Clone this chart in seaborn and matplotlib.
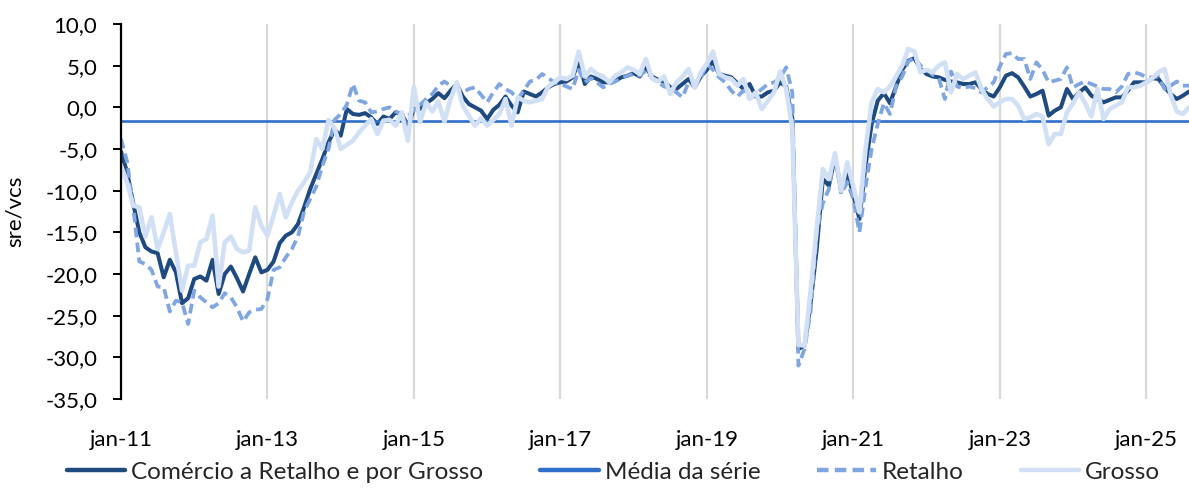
import numpy as np
import pandas as pd
import matplotlib
matplotlib.use("Agg")
import matplotlib.pyplot as plt
import seaborn as sns
from matplotlib.ticker import FuncFormatter

# ---- data (monthly, jan-2011 .. aug-2025) ----
comercio = [
    -5.3, -7.8, -11.5, -15.0, -16.8, -17.3, -17.5, -20.4, -18.3, -19.8, -23.5, -22.9,
    -20.6, -20.3, -20.8, -18.3, -22.4, -20.0, -19.1, -20.5, -22.1, -20.0, -18.0, -19.8,
    -19.5, -18.5, -16.3, -15.4, -15.0, -14.0, -12.0, -9.8, -8.0, -6.2, -4.2, -2.7,
    -3.4, -0.2, -0.8, -0.9, -0.7, -1.2, -2.0, -1.1, -1.4, -0.6, -0.8, -2.2,
    -0.2, -0.2, 0.5, 1.0, 1.7, 1.1, 2.0, 2.8, 1.3, 0.4, 0.0, -0.4,
    -1.4, -0.3, 0.3, 1.3, 0.2, -0.6, 1.9, 1.6, 1.3, 1.8, 2.4, 2.8,
    3.0, 3.1, 3.6, 5.5, 2.8, 3.7, 3.4, 3.0, 3.0, 3.2, 3.6, 3.8,
    4.1, 3.7, 4.8, 3.7, 3.3, 3.1, 2.4, 2.2, 2.8, 3.4, 2.4, 3.7,
    4.5, 5.5, 4.0, 3.8, 3.6, 2.9, 2.2, 2.8, 1.3, 1.3, 1.8, 2.0,
    3.0, 2.5, -1.4, -29.0, -28.6, -23.5, -17.0, -8.6, -9.4, -5.9, -10.0, -7.8,
    -10.5, -13.4, -7.0, -2.0, 0.8, 1.7, 0.5, 2.5, 4.5, 5.6, 5.9, 4.6,
    4.0, 3.7, 3.6, 3.3, 3.1, 3.0, 2.8, 2.8, 3.0, 2.2, 1.6, 1.3,
    2.4, 3.8, 4.1, 3.6, 2.5, 1.3, 1.6, 2.0, -1.0, -0.4, 0.0, 2.2,
    1.0, 1.8, 2.4, 1.4, 1.0, 0.6, 0.9, 1.2, 1.2, 2.0, 3.0, 3.0,
    3.0, 3.5, 3.4, 2.4, 1.6, 1.0, 1.4, 1.9,
]
retalho = [
    -3.8, -6.5, -12.0, -18.5, -18.8, -19.5, -21.5, -21.6, -24.5, -23.2, -23.4, -26.0,
    -22.0, -22.8, -23.4, -24.0, -23.5, -22.3, -22.8, -24.0, -25.7, -24.6, -24.3, -24.2,
    -23.0, -19.5, -19.2, -18.0, -17.0, -15.5, -12.5, -11.0, -9.5, -7.0, -5.0, -1.5,
    -0.8, 0.3, 2.8, 0.8, 0.6, -0.6, -0.5, -0.2, 0.0, -0.5, -0.8, -1.1,
    -0.3, 0.3, 1.0, 1.6, 2.6, 3.1, 2.6, 2.5, 1.8, 2.2, 2.4, 1.5,
    0.6, 1.8, 2.8, 2.2, 1.8, 1.0, 2.0, 3.1, 3.3, 4.0, 3.5, 3.0,
    2.8, 2.5, 2.2, 4.5, 3.0, 3.5, 3.0, 2.4, 2.8, 3.1, 3.5, 3.8,
    4.0, 3.8, 4.4, 3.5, 3.0, 2.5, 2.3, 1.8, 1.2, 3.0, 2.6, 3.5,
    5.2, 4.5, 3.6, 3.0, 2.0, 1.3, 2.0, 1.0, 1.6, 2.2, 2.8, 3.0,
    3.5, 4.8, 1.8, -31.0, -29.0, -24.5, -15.0, -11.5, -9.8, -5.5, -10.4, -9.0,
    -11.0, -15.0, -9.5, -5.0, -2.0, 0.5, -0.8, 2.5, 3.7, 5.5, 6.0, 5.0,
    4.6, 3.9, 3.5, 1.0, 4.3, 2.5, 2.3, 2.5, 2.3, 1.8, 2.4, 3.0,
    4.9, 6.4, 6.5, 5.8, 5.8, 3.4, 5.4, 4.5, 3.0, 3.2, 3.4, 4.8,
    2.4, 2.8, 3.1, 2.8, 2.5, 2.2, 2.2, 1.8, 2.5, 4.0, 4.2, 4.0,
    3.6, 3.6, 3.7, 2.2, 2.6, 3.1, 2.6, 2.6,
]
grosso = [
    -7.0, -9.0, -11.8, -12.0, -15.5, -13.2, -17.0, -15.0, -12.8, -17.4, -22.0, -19.0,
    -19.0, -16.2, -15.8, -13.0, -21.5, -16.2, -15.5, -17.0, -17.4, -17.2, -12.0, -14.2,
    -15.4, -13.0, -10.4, -13.2, -11.4, -10.0, -9.0, -7.8, -3.8, -5.0, -1.5, -2.5,
    -5.0, -4.5, -4.0, -3.0, -2.2, -1.4, -3.2, -1.6, -1.5, -2.2, -0.6, -4.0,
    2.5, -1.8, 0.6, -0.5, 0.7, -1.7, 1.0, 3.0, 0.2, -1.0, -2.2, -1.3,
    -2.2, -1.5, -0.8, 1.0, -2.2, 1.2, 0.8, 0.6, 0.8, 1.0, 2.5, 3.0,
    3.6, 3.4, 3.8, 6.7, 3.7, 4.6, 4.0, 3.7, 3.0, 3.8, 4.2, 4.8,
    4.5, 4.0, 5.8, 3.5, 3.1, 3.7, 1.6, 3.0, 3.7, 4.6, 2.4, 4.2,
    5.2, 6.7, 4.0, 3.6, 3.4, 2.6, 3.4, 1.0, 1.8, -0.2, 0.8, 1.8,
    4.3, 2.2, -2.6, -28.5, -28.6, -22.0, -14.5, -7.4, -8.6, -5.5, -10.0, -6.6,
    -9.5, -12.6, -5.0, 0.6, 2.2, 1.8, 2.5, 3.7, 5.0, 7.0, 6.7, 4.2,
    4.5, 4.2, 5.0, 5.4, 1.8, 4.0, 3.4, 3.8, 4.2, 2.2, 1.0, 0.1,
    0.6, 1.0, 1.0, 0.2, -1.4, -1.2, -0.8, -1.1, -4.4, -3.2, -3.2, -0.6,
    0.5, 1.8, 0.5, -1.1, 2.2, -1.4, -0.2, 0.2, 0.6, 2.4, 2.4, 2.6,
    3.0, 3.5, 4.2, 4.6, 1.5, -0.5, -0.8, 0.0,
]
media_serie = -1.6
tick_labels = ["jan-11", "jan-13", "jan-15", "jan-17", "jan-19", "jan-21", "jan-23", "jan-25"]
series_names = ["Comércio a Retalho e por Grosso", "Média da série", "Retalho", "Grosso"]

n = len(comercio)
month = np.arange(n)
df = pd.DataFrame({
    "month": month,
    "comercio": comercio,
    "media": [media_serie] * n,
    "retalho": retalho,
    "grosso": grosso,
})

sns.set_theme(style="white")
plt.rcParams["font.family"] = ["Lato", "DejaVu Sans"]

W, H = 1189, 491
fig = plt.figure(figsize=(W / 100, H / 100), dpi=100)
ax = fig.add_axes([121 / W, 1 - 399 / H, 1 - 121 / W, (399 - 24) / H])

c_dark = "#1F4A80"
c_mean = "#2F6FCA"
c_ret = "#7FA6E0"
c_gro = "#D2E0F5"

sns.lineplot(data=df, x="month", y="comercio", ax=ax, color=c_dark, lw=2.9,
             label=series_names[0], zorder=3)
sns.lineplot(data=df, x="month", y="media", ax=ax, color=c_mean, lw=1.9,
             label=series_names[1], zorder=3)
sns.lineplot(data=df, x="month", y="retalho", ax=ax, color=c_ret, lw=2.7,
             label=series_names[2], zorder=3)
ax.lines[-1].set_dashes([2.6, 1.4])
sns.lineplot(data=df, x="month", y="grosso", ax=ax, color=c_gro, lw=3.3,
             label=series_names[3], zorder=3)

ax.set_xlim(0, n - 1)
ax.set_ylim(-35, 10)
ax.set_xticks(np.arange(0, n, 24))
ax.set_xticklabels(tick_labels)
ax.set_yticks(np.arange(-35, 10.1, 5))
ax.yaxis.set_major_formatter(FuncFormatter(lambda v, p: f"{v:.1f}".replace(".", ",")))

ax.grid(axis="x", color="#D9D9D9", lw=1.6, zorder=0)
ax.grid(axis="y", visible=False)
for s in ["top", "right", "bottom"]:
    ax.spines[s].set_visible(False)
ax.spines["left"].set_color("black")
ax.spines["left"].set_linewidth(1.6)
ax.spines["left"].set_zorder(4)

ax.tick_params(axis="y", which="major", direction="out", length=6, width=1.4,
               color="black", left=True, labelsize=16, pad=11, labelcolor="black")
ax.tick_params(axis="x", which="major", length=0, labelsize=16, pad=22, labelcolor="black")
ax.set_xlabel("")
ax.set_ylabel("sre/vcs", fontsize=16, color="black", labelpad=6)
ax.yaxis.set_label_coords(-0.09, 0.5)

ax.get_legend().remove()
handles, labels = ax.get_legend_handles_labels()
leg = fig.legend(handles, labels, loc="center", bbox_to_anchor=(0.516, 1 - 472 / H),
                 ncol=4, frameon=False, fontsize=17.5, handlelength=2.4,
                 handletextpad=0.25, columnspacing=2.35)
for h in leg.get_lines():
    h.set_linewidth(3.2)

fig.savefig("out.png", dpi=100)
